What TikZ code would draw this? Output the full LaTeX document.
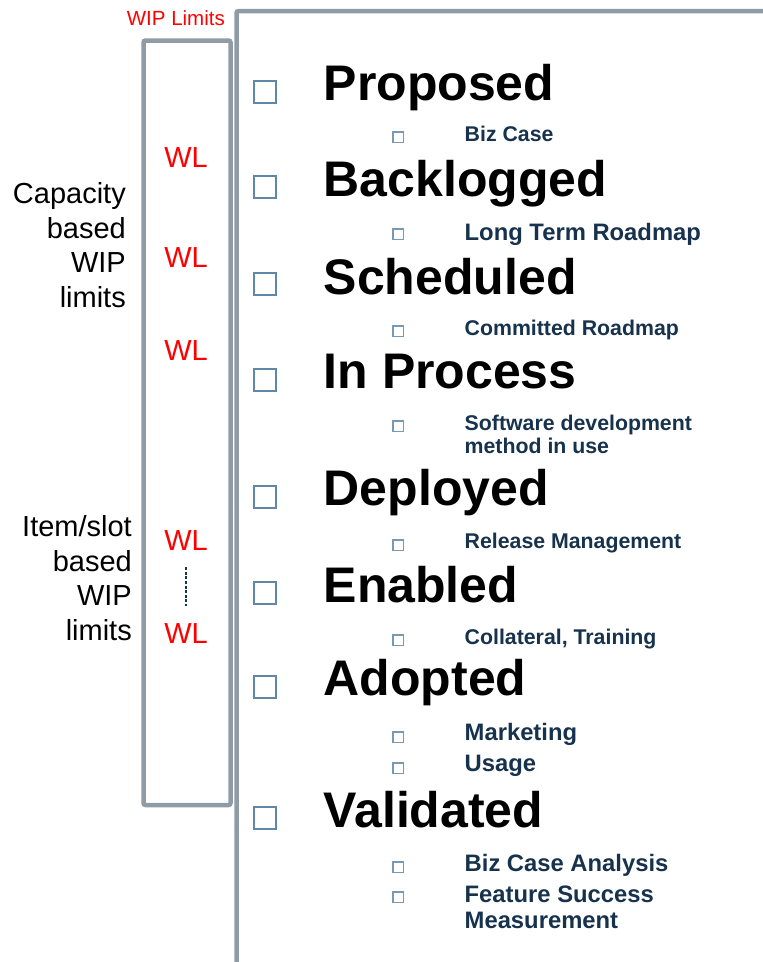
\documentclass[tikz,border=0pt]{standalone}
\usepackage{fontspec}
\setmainfont{Liberation Sans}
\usepackage{tikz}

\definecolor{framegray}{HTML}{8F9CA6}
\definecolor{boxblue}{HTML}{5F87A8}
\definecolor{itemnavy}{HTML}{17324D}

\tikzset{
  frame/.style={draw=framegray, line width=4.5pt},
  limtitle/.style={anchor=base east, inner sep=0pt, text=red, font=\fontsize{20.5}{24}\selectfont},
  wl/.style={anchor=base, inner sep=0pt, text=red, font=\fontsize{29}{34}\selectfont},
  wldash/.style={draw=itemnavy, dash pattern=on 3pt off 1.6pt, line width=1.3pt},
  side/.style={anchor=base east, align=right, inner sep=0pt, font=\fontsize{29}{34.4}\selectfont},
  stage/.style={anchor=base west, inner sep=0pt, font=\fontsize{50}{60}\selectfont\bfseries},
  bigcb/.style={draw=boxblue, line width=2pt, minimum size=22pt, inner sep=0pt},
  smallcb/.style={draw=boxblue!85, line width=1.3pt, minimum size=10.3pt, inner sep=0pt},
  item/.style={anchor=base west, align=left, inner sep=0pt, text=itemnavy, font=\fontsize{21.3}{23}\selectfont\bfseries},
  itembig/.style={item, font=\fontsize{23.8}{26}\selectfont\bfseries}
}

\begin{document}
\begin{tikzpicture}[x=1pt,y=-1pt]
\useasboundingbox (0,0) rectangle (763,962);
%% left frame with the limits
\draw [frame, rounded corners=2pt] (143.5,40.5) rectangle (230.5,805);
\node (wiptitle) at (225,25) [limtitle] {WIP Limits};
\foreach \n/\y in {1/167,2/267,3/360,4/550,5/643}
  \node (wl\n) at (186,\y) [wl] {WL};
\draw [wldash, shorten <=17pt, shorten >=17pt] (wl4) -- (wl5);
%% multi-line labels sit on their last baseline
\node (capacity) at (126,307) [side] {Capacity\\based\\WIP\\limits};
\node (itemslot) at (132,640) [side] {Item/slot\\based\\WIP\\limits};
%% right frame
\draw [frame, rounded corners=2pt] (236.5,975) -- (236.5,11) -- (775,11);
%% stages
\foreach \n/\y/\t in {prop/100/Proposed, back/196/Backlogged, sched/294/Scheduled,
    inproc/388/In Process, depl/505/Deployed, enab/602/Enabled,
    adopt/695/Adopted, valid/827/Validated}
  \node (\n) at (323.5,\y) [stage] {\t};
\foreach \n/\y in {prop/92, back/187, sched/284, inproc/380, depl/497, enab/593, adopt/687, valid/818}
  \node (cb\n) at (265,\y) [bigcb] {};
%% items under each stage
\foreach \n/\y in {1/137, 2/234, 3/331, 4/426, 5/545, 6/640, 7/737, 8/768, 9/867, 10/897}
  \node (scb\n) at (398,\y) [smallcb] {};
\node (it1) at (464.5,141) [item] {Biz Case};
\node (it2) at (464.5,240) [itembig] {Long Term Roadmap};
\node (it3) at (464.5,335) [item] {Committed Roadmap};
\node (it4) at (464.5,453) [item] {Software development\\method in use};
\node (it5) at (464.5,548) [item] {Release Management};
\node (it6) at (464.5,644) [item] {Collateral, Training};
\node (it7) at (464.5,740) [itembig] {Marketing};
\node (it8) at (464.5,771) [itembig] {Usage};
\node (it9) at (464.5,871) [itembig] {Biz Case Analysis};
\node (it10) at (464.5,928) [itembig] {Feature Success\\Measurement};
\end{tikzpicture}
\end{document}
